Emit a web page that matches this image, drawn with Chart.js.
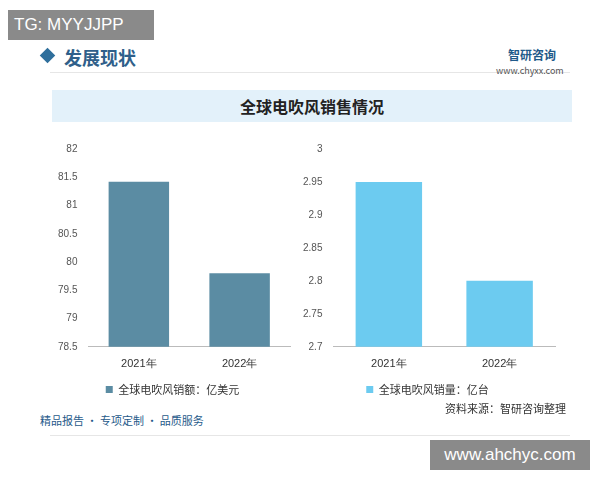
<!DOCTYPE html>
<html><head><meta charset="utf-8">
<script src="https://cdn.jsdelivr.net/npm/chart.js@4"></script>
<style>
body{margin:0;width:600px;height:480px;background:#fff;font-family:"Noto Sans CJK SC",sans-serif;position:relative;overflow:hidden}
.abs{position:absolute}
</style></head><body>
<div class="abs" style="left:8px;top:10px;width:140px;height:30px;background:#8a8a8a;color:#fff;font-size:17px;line-height:30px;padding-left:6px;font-family:'Liberation Sans'">TG: MYYJJPP</div>
<div class="abs" style="left:42px;top:50px;width:11px;height:11px;background:#2f6f9c;transform:rotate(45deg)"></div>
<div class="abs" style="left:64px;top:44px;font-size:18px;font-weight:bold;color:#2f5f8a">发展现状</div>
<div class="abs" style="left:50px;top:72px;width:520px;height:1px;background:#e6e6e6"></div>
<div class="abs" style="left:508px;top:46px;font-size:12px;color:#1f5a8a;font-weight:bold">智研咨询</div>
<div class="abs" style="left:496px;top:64px;font-size:9px;color:#555">www.chyxx.com</div>
<div class="abs" style="left:52px;top:90px;width:520px;height:32px;background:#e3f1fa;text-align:center;line-height:32px;font-size:16px;font-weight:bold;color:#222">全球电吹风销售情况</div>
<canvas id="c1" class="abs" style="left:55px;top:140px" width="245" height="265"></canvas>
<canvas id="c2" class="abs" style="left:300px;top:140px" width="265" height="265"></canvas>
<div class="abs" style="left:50px;top:435px;width:520px;height:1px;background:#e6e6e6"></div>
<div class="abs" style="left:40px;top:412px;font-size:11px;color:#1f5a8a">精品报告 · 专项定制 · 品质服务</div>
<div class="abs" style="left:445px;top:400px;font-size:11px;color:#333">资料来源：智研咨询整理</div>
<div class="abs" style="left:430px;top:440px;width:160px;height:30px;background:#8a8a8a;color:#fff;font-size:17px;line-height:30px;text-align:center;font-family:'Liberation Sans'">www.ahchyc.com</div>
<script>
const years=["2021年","2022年"];
const salesAmount=[81.42,79.8];
const salesVolume=[2.95,2.80];
const leftTicks=[78.5,82,0.5];
const rightTicks=[2.7,3,0.05];
function mk(id,data,color,label,t){
new Chart(document.getElementById(id),{type:'bar',
data:{labels:years,datasets:[{label:label,data:data,backgroundColor:color,barPercentage:0.6,categoryPercentage:1}]},
options:{responsive:false,animation:false,
layout:{padding:{right:10}},
plugins:{legend:{position:'bottom',labels:{boxWidth:7,boxHeight:7,font:{size:11,family:'Noto Sans CJK SC'},color:'#333'}},tooltip:{enabled:false}},
scales:{x:{grid:{display:false},border:{color:'#bbb'},ticks:{color:'#333',font:{size:11}}},
y:{min:t[0],max:t[1],ticks:{stepSize:t[2],color:'#555',font:{size:10},callback:v=>String(+v.toFixed(2))},grid:{display:false},border:{display:false}}}}});
}
mk('c1',salesAmount,'#5b8ca3','全球电吹风销额：亿美元',leftTicks);
mk('c2',salesVolume,'#6ccbf0','全球电吹风销量：亿台',rightTicks);
</script>
</body></html>
